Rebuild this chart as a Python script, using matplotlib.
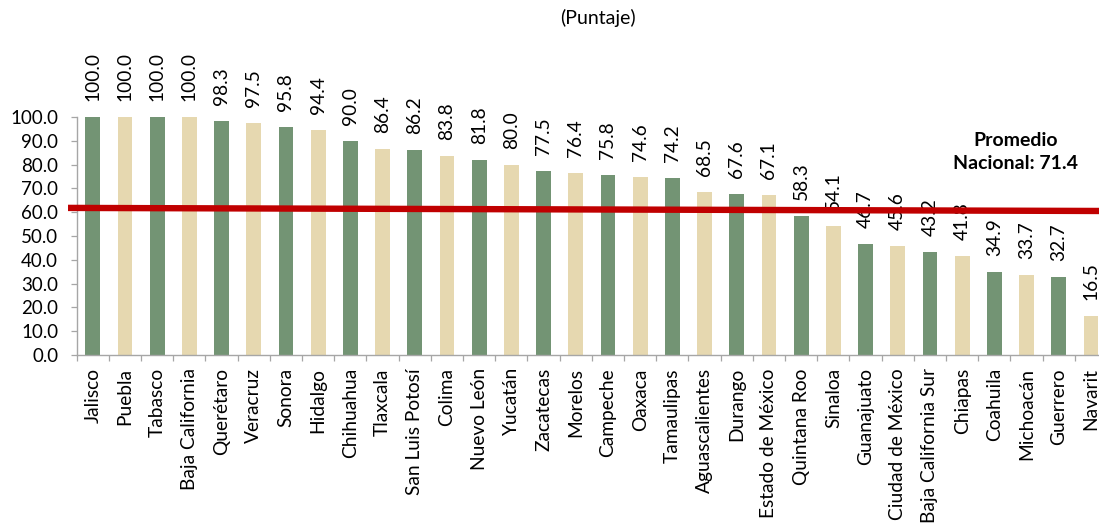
import matplotlib
matplotlib.use("Agg")
import matplotlib.pyplot as plt
import numpy as np

plt.rcParams['font.family'] = ['Lato', 'DejaVu Sans']

# Puntaje por entidad federativa
estados = ["Jalisco", "Puebla", "Tabasco", "Baja California", "Querétaro", "Veracruz",
           "Sonora", "Hidalgo", "Chihuahua", "Tlaxcala", "San Luis Potosí", "Colima",
           "Nuevo León", "Yucatán", "Zacatecas", "Morelos", "Campeche", "Oaxaca",
           "Tamaulipas", "Aguascalientes", "Durango", "Estado de México", "Quintana Roo",
           "Sinaloa", "Guanajuato", "Ciudad de México", "Baja California Sur", "Chiapas",
           "Coahuila", "Michoacán", "Guerrero", "Navarit"]
puntaje = [100.0, 100.0, 100.0, 100.0, 98.3, 97.5, 95.8, 94.4, 90.0, 86.4, 86.2, 83.8,
           81.8, 80.0, 77.5, 76.4, 75.8, 74.6, 74.2, 68.5, 67.6, 67.1, 58.3, 54.1,
           46.7, 45.6, 43.2, 41.8, 34.9, 33.7, 32.7, 16.5]
y_ticks = [0, 10, 20, 30, 40, 50, 60, 70, 80, 90, 100]

# Referencia trazada sobre las barras (extremo izquierdo, extremo derecho)
linea_x = [-0.77, 31.5]
linea_y = [61.8, 60.5]
promedio_texto = "Promedio\nNacional: 71.4"

verde = "#739474"
beige = "#E6D8B0"
gris = "#A6A6A6"

fig = plt.figure(figsize=(10.99, 5.27), dpi=100)
ax = fig.add_axes([0.0698, 0.3264, 0.9375, 0.4516])

x = np.arange(len(estados))
colores = [verde if i % 2 == 0 else beige for i in range(len(estados))]
ax.bar(x, puntaje, width=0.46, color=colores, zorder=2)

for xi, v in zip(x, puntaje):
    ax.annotate(f"{v:.1f}", xy=(xi, v), xytext=(0, 11.5), textcoords="offset points",
                rotation=90, ha="center", va="bottom", fontsize=13.8, color="black",
                zorder=3)

ax.set_xlim(-0.5, len(estados) - 0.5)
ax.set_ylim(0, 100)

ax.set_yticks(y_ticks)
ax.set_yticklabels([f"{t:.1f}" for t in y_ticks], fontsize=13.5)
ax.tick_params(axis="y", direction="out", length=4.3, width=0.9, color=gris, pad=9)

ax.set_xticks(x)
ax.set_xticklabels(estados, rotation=90, fontsize=13.8, va="top", ha="center")
ax.set_xticks(np.arange(-0.5, len(estados) + 0.5, 1), minor=True)
ax.tick_params(axis="x", which="major", length=0, pad=9.5)
ax.tick_params(axis="x", which="minor", direction="out", length=4.5, width=0.9, color=gris)

for s in ["top", "right"]:
    ax.spines[s].set_visible(False)
for s in ["left", "bottom"]:
    ax.spines[s].set_color(gris)
    ax.spines[s].set_linewidth(1.0)

ax.plot(linea_x, linea_y, color="#C00000", linewidth=4.6, solid_capstyle="butt",
        clip_on=False, zorder=4)

ax.text(28.67, 85.3, promedio_texto, ha="center", va="center", fontsize=14,
        fontweight="bold", linespacing=1.45, zorder=5)

fig.text(0.544, 0.966, "(Puntaje)", ha="center", va="center", fontsize=14)

fig.savefig("out.png", dpi=100)
